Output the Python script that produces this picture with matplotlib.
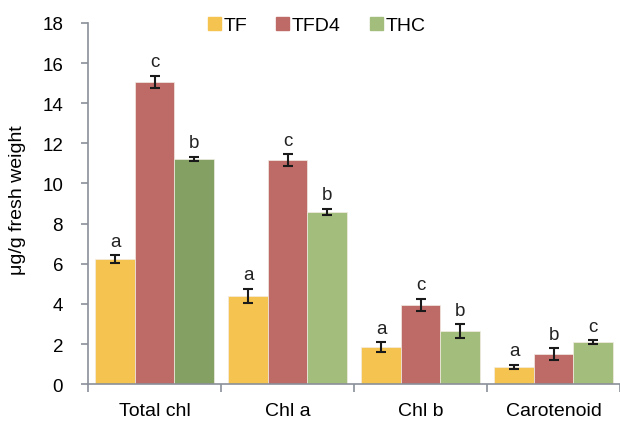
import numpy as np
import matplotlib.pyplot as plt
from matplotlib.patches import Patch

plt.rcParams['font.family'] = ['Liberation Sans', 'DejaVu Sans']

categories = ['Total chl', 'Chl a', 'Chl b', 'Carotenoid']
series = ['TF', 'TFD4', 'THC']
tf = [6.23, 4.39, 1.83, 0.86]
tfd4 = [15.07, 11.15, 3.95, 1.48]
thc = [11.22, 8.6, 2.63, 2.09]
tf_err = [0.2, 0.35, 0.25, 0.1]
tfd4_err = [0.3, 0.3, 0.3, 0.3]
thc_err = [0.1, 0.15, 0.35, 0.1]
tf_lab = ['a', 'a', 'a', 'a']
tfd4_lab = ['c', 'c', 'c', 'b']
thc_lab = ['b', 'b', 'b', 'c']

colors = ['#f5c34f', '#be6b67', '#a3bd7d']

fig = plt.figure(figsize=(6.2, 4.27), dpi=100)
ax = fig.add_axes([0.142, 0.098, 0.858, 0.846])

x = np.arange(len(categories))
w = 0.297
vals = [tf, tfd4, thc]
errs = [tf_err, tfd4_err, thc_err]
labs = [tf_lab, tfd4_lab, thc_lab]
for i in range(3):
    pos = x + (i - 1) * w
    cols = [colors[i]] * len(categories)
    if i == 2:
        cols[0] = '#84a062'  # first THC bar is darker in the original
    ax.bar(pos, vals[i], w, color=cols, edgecolor='#f3ece4', linewidth=0.5)
    ax.errorbar(pos, vals[i], yerr=errs[i], fmt='none', ecolor='#1a1a1a',
                elinewidth=1.5, capsize=3.5, capthick=1.5)
    for p, v, e, t in zip(pos, vals[i], errs[i], labs[i]):
        ax.annotate(t, (p, v + e), xytext=(0, 4), textcoords='offset points',
                    ha='center', va='bottom', fontsize=13.5, color='#222222')

ax.set_xlim(-0.5, 3.5)
ax.set_ylim(0, 18)
ax.set_yticks(range(0, 19, 2))
ax.set_xticks(x)
ax.set_xticklabels(categories)
ax.set_xticks(np.arange(-0.5, 3.6, 1), minor=True)
ax.tick_params(axis='x', which='major', length=0, pad=13, labelsize=14)
ax.tick_params(axis='x', which='minor', length=6, color='#8a9099', width=1.2)
ax.tick_params(axis='y', length=5, color='#8a9099', width=1.2, labelsize=13.5, pad=13)
for s in ['top', 'right']:
    ax.spines[s].set_visible(False)
for s in ['left', 'bottom']:
    ax.spines[s].set_color('#8a9099')
    ax.spines[s].set_linewidth(1.2)
ax.set_ylabel('μg/g fresh weight', fontsize=14)
ax.yaxis.set_label_coords(-0.117, 0.512)

handles = [Patch(color=c, label=s) for c, s in zip(colors, series)]
ax.legend(handles=handles, loc='upper center', bbox_to_anchor=(0.43, 1.065), ncol=3,
          frameon=False, fontsize=14, handlelength=0.65, handleheight=0.65,
          handletextpad=0.15, columnspacing=1.5)

fig.savefig('out.png', dpi=100)
